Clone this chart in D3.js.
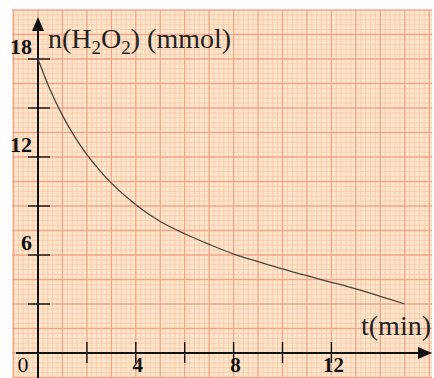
<!DOCTYPE html>
<html>
<head>
<meta charset="utf-8">
<script src="https://cdn.jsdelivr.net/npm/d3@7"></script>
<style>
  html, body { margin: 0; padding: 0; background: #fff; }
  svg { display: block; }
  text { font-family: "Liberation Serif", "Times New Roman", serif; }
</style>
</head>
<body>
<svg id="chart" width="434" height="378"></svg>
<script>
// Decomposition of H2O2: amount of substance vs time
const times = [0, 0.5, 1, 1.5, 2, 3, 4, 5, 6, 7, 8, 9, 10, 11, 12, 13, 14, 15];
const amounts = [18, 16.1, 14.55, 13.25, 12.15, 10.4, 9.08, 8.05, 7.3, 6.65, 6.06, 5.6, 5.15, 4.73, 4.33, 3.92, 3.47, 3.0];

const yTicks = [3, 6, 9, 12, 15, 18];
const yTickLabels = [6, 12, 18];
const xTicks = [2, 4, 6, 8, 10, 12];
const xTickLabels = [4, 8, 12];

const svg = d3.select("#chart");

// scales: 1 min ≈ 24.45 px, 3 mmol ≈ 49 px
const x = d3.scaleLinear().domain([0, 15]).range([38, 38 + 15 * 24.45]);
const y = d3.scaleLinear().domain([0, 18]).range([353, 59]);

// graph paper
const paper = { x0: 12, y0: 10, x1: 432, y1: 378 };
svg.append("rect")
  .attr("x", paper.x0).attr("y", paper.y0)
  .attr("width", paper.x1 - paper.x0).attr("height", paper.y1 - paper.y0)
  .attr("fill", "#fde5cb");

const tMin = x.invert(paper.x0), tMax = x.invert(paper.x1);
const nMin = y.invert(paper.y1), nMax = y.invert(paper.y0);

const grid = svg.append("g");
// minor lines: 0.2 min and 0.3 mmol
const minorX = d3.range(Math.ceil(tMin / 0.2), Math.floor(tMax / 0.2) + 1).filter(i => i % 5 !== 0).map(i => i * 0.2);
const minorY = d3.range(Math.ceil(nMin / 0.3), Math.floor(nMax / 0.3) + 1).filter(i => i % 5 !== 0).map(i => i * 0.3);
grid.selectAll(".mx").data(minorX).join("line")
  .attr("x1", d => x(d)).attr("x2", d => x(d))
  .attr("y1", paper.y0).attr("y2", paper.y1)
  .attr("stroke", "#f6c9a8").attr("stroke-width", 0.8);
grid.selectAll(".my").data(minorY).join("line")
  .attr("y1", d => y(d)).attr("y2", d => y(d))
  .attr("x1", paper.x0).attr("x2", paper.x1)
  .attr("stroke", "#f6c9a8").attr("stroke-width", 0.8);
// major lines: 1 min and 1.5 mmol
const majorX = d3.range(Math.ceil(tMin), Math.floor(tMax) + 1);
const majorY = d3.range(Math.ceil(nMin / 1.5), Math.floor(nMax / 1.5) + 1).map(i => i * 1.5);
grid.selectAll(".Mx").data(majorX).join("line")
  .attr("x1", d => x(d)).attr("x2", d => x(d))
  .attr("y1", paper.y0).attr("y2", paper.y1)
  .attr("stroke", "#efa68a").attr("stroke-width", 1.3);
grid.selectAll(".My").data(majorY).join("line")
  .attr("y1", d => y(d)).attr("y2", d => y(d))
  .attr("x1", paper.x0).attr("x2", paper.x1)
  .attr("stroke", "#efa68a").attr("stroke-width", 1.3);

// axes
const axes = svg.append("g").attr("stroke", "#111").attr("stroke-width", 2);
axes.append("line").attr("x1", x(0)).attr("x2", x(0)).attr("y1", 378).attr("y2", 26);
axes.append("line").attr("x1", 16).attr("x2", 420).attr("y1", y(0)).attr("y2", y(0));
svg.append("path")
  .attr("d", `M${x(0)},17 L${x(0) - 6},31 L${x(0) + 6},31 Z`).attr("fill", "#111");
svg.append("path")
  .attr("d", `M432,${y(0)} L418,${y(0) - 6} L418,${y(0) + 6} Z`).attr("fill", "#111");

axes.selectAll(".yt").data(yTicks).join("line")
  .attr("x1", x(0) - 10).attr("x2", x(0) + 12)
  .attr("y1", d => y(d)).attr("y2", d => y(d))
  .attr("stroke-width", 1.4);
axes.selectAll(".xt").data(xTicks).join("line")
  .attr("x1", d => x(d)).attr("x2", d => x(d))
  .attr("y1", y(0) - 11).attr("y2", y(0) + 10)
  .attr("stroke-width", 1.4);

// curve
const line = d3.line().x((d, i) => x(times[i])).y(d => y(d)).curve(d3.curveCatmullRom.alpha(0.5));
svg.append("path").datum(amounts)
  .attr("d", line).attr("fill", "none")
  .attr("stroke", "#4a4540").attr("stroke-width", 1.3);

// labels
svg.selectAll(".yl").data(yTickLabels).join("text")
  .attr("x", 32).attr("y", d => y(d) - 5)
  .attr("text-anchor", "end").attr("font-size", 22).attr("font-weight", "bold")
  .attr("fill", "#111").text(d => d);
svg.selectAll(".xl").data(xTickLabels).join("text")
  .attr("x", d => x(d) + 2).attr("y", 372)
  .attr("text-anchor", "middle").attr("font-size", 21).attr("font-weight", "bold")
  .attr("fill", "#111").text(d => d);
svg.append("text").attr("x", 23).attr("y", 372)
  .attr("text-anchor", "middle").attr("font-size", 22)
  .attr("fill", "#111").text("0");

const title = svg.append("text").attr("x", 48).attr("y", 48)
  .attr("font-size", 28).attr("fill", "#222");
title.append("tspan").text("n(H");
title.append("tspan").attr("font-size", 19).attr("dy", 6).text("2");
title.append("tspan").attr("dy", -6).text("O");
title.append("tspan").attr("font-size", 19).attr("dy", 6).text("2");
title.append("tspan").attr("dy", -6).text(") (mmol)");

svg.append("text").attr("x", 431).attr("y", 335)
  .attr("text-anchor", "end").attr("font-size", 28).attr("fill", "#222")
  .text("t(min)");
</script>
</body>
</html>
